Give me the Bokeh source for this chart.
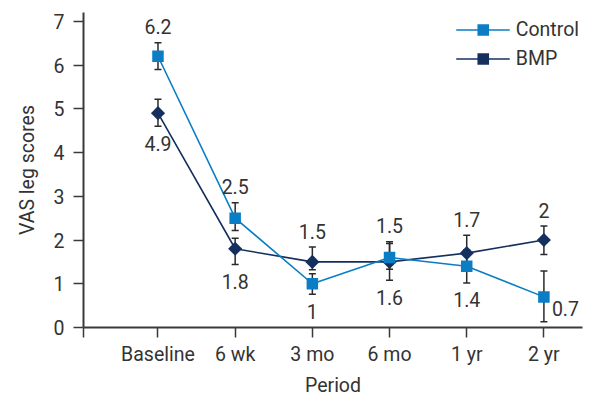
import numpy as np
from bokeh.plotting import figure
from bokeh.models import (ColumnDataSource, Range1d, FixedTicker, Whisker, TeeHead,
                          Legend, LegendItem, CustomJSTickFormatter)
from bokeh.core.properties import value
from bokeh.embed import file_html
from bokeh.resources import INLINE

# Follow-up time points
periods = ["Baseline", "6 wk", "3 mo", "6 mo", "1 yr", "2 yr"]

# Mean VAS leg scores with error-bar limits
control_mean = [6.2, 2.5, 1.0, 1.6, 1.4, 0.7]
control_low = [5.90, 2.22, 0.76, 1.33, 1.02, 0.13]
control_high = [6.51, 2.85, 1.23, 1.96, 1.78, 1.29]

bmp_mean = [4.9, 1.8, 1.5, 1.5, 1.7, 2.0]
bmp_low = [4.60, 1.44, 1.32, 1.08, 1.30, 1.67]
bmp_high = [5.22, 2.04, 1.84, 1.92, 2.11, 2.32]

# Where each value label sits relative to its point
control_label_side = ["above", "above", "below", "below", "below", "right"]
bmp_label_side = ["below", "below", "above", "above", "above", "above"]

y_ticks = [0, 1, 2, 3, 4, 5, 6, 7]

FONT = "Roboto"
FONT_SIZE = "19.5px"
TEXT = "#333333"
AXIS = "#3a3a3a"
CONTROL = "#0a7dc5"
BMP = "#15305e"
ERR = "#2a2a2a"

x_pos = list(range(1, len(periods) + 1))
X_START = 0.035

p = figure(width=590, height=399, output_backend="svg", toolbar_location=None,
           x_range=Range1d(X_START, 6.5), y_range=Range1d(0, 7.2),
           min_border_left=83, min_border_right=8, min_border_top=12,
           min_border_bottom=72)
p.outline_line_color = None
p.grid.visible = False
p.background_fill_color = "white"
p.border_fill_color = "white"

# Axes
for ax in (p.xaxis, p.yaxis):
    ax.axis_line_color = AXIS
    ax.axis_line_width = 2
    ax.major_tick_line_color = AXIS
    ax.major_tick_line_width = 1.5
    ax.major_tick_in = 0
    ax.major_tick_out = 10
    ax.minor_tick_line_color = None
    ax.major_label_text_font = FONT
    ax.major_label_text_font_size = FONT_SIZE
    ax.major_label_text_color = TEXT
    ax.axis_label_text_font = FONT
    ax.axis_label_text_font_size = FONT_SIZE
    ax.axis_label_text_font_style = "normal"
    ax.axis_label_text_color = TEXT

p.yaxis.ticker = FixedTicker(ticks=y_ticks)
p.yaxis.major_label_standoff = 9
p.yaxis.axis_label = "VAS leg scores"
p.yaxis.axis_label_standoff = 12

p.xaxis.ticker = FixedTicker(ticks=[X_START] + x_pos)
p.xaxis.formatter = CustomJSTickFormatter(args=dict(names=periods), code="""
    const i = Math.round(tick);
    return (Math.abs(tick - i) < 1e-6 && i >= 1) ? names[i - 1] : "";
""")
p.xaxis.major_label_standoff = 5
p.xaxis.axis_label = "Period"
p.xaxis.axis_label_standoff = 5

series = [
    ("BMP", bmp_mean, bmp_low, bmp_high, bmp_label_side, BMP),
    ("Control", control_mean, control_low, control_high, control_label_side, CONTROL),
]

# Error bars beneath lines and markers
for name, mean, lo, hi, side, color in series:
    src = ColumnDataSource(dict(x=x_pos, lo=lo, hi=hi))
    w = Whisker(base="x", lower="lo", upper="hi", source=src,
                line_color=ERR, line_width=1.5, level="underlay",
                upper_head=TeeHead(size=7, line_color=ERR, line_width=1.5),
                lower_head=TeeHead(size=7, line_color=ERR, line_width=1.5))
    p.add_layout(w)

renderers = {}
for name, mean, lo, hi, side, color in series:
    ln = p.line(x_pos, mean, line_color=color, line_width=1.6)
    renderers[name] = [ln]

for name, mean, lo, hi, side, color in series:
    if name == "Control":
        mk = p.scatter(x_pos, mean, marker="square", size=11.5,
                       fill_color=color, line_color=None)
    else:
        mk = p.scatter(x_pos, mean, marker="square", angle=np.pi / 4, size=10,
                       fill_color=color, line_color=None)
    renderers[name].append(mk)

# Value labels: clear of both groups' error bars at each time point
top_bar = [max(a, b) for a, b in zip(control_high, bmp_high)]
bottom_bar = [min(a, b) for a, b in zip(control_low, bmp_low)]

for name, mean, lo, hi, side, color in series:
    labels = [f"{v:g}" for v in mean]
    for where in ("above", "below", "right"):
        idx = [i for i, s in enumerate(side) if s == where]
        if not idx:
            continue
        if where == "above":
            ys = [top_bar[i] for i in idx]
            kw = dict(text_align="center", y_offset=-16)
        elif where == "below":
            ys = [bottom_bar[i] for i in idx]
            kw = dict(text_align="center", y_offset=17)
        else:
            ys = [mean[i] for i in idx]
            kw = dict(text_align="left", x_offset=8, y_offset=12)
        src = ColumnDataSource(dict(x=[x_pos[i] for i in idx], y=ys,
                                    t=[labels[i] for i in idx]))
        p.text(x="x", y="y", text="t", source=src, text_font=value(FONT),
               text_font_size=FONT_SIZE, text_color=TEXT,
               text_baseline="middle", **kw)

legend = Legend(items=[LegendItem(label="Control", renderers=renderers["Control"]),
                       LegendItem(label="BMP", renderers=renderers["BMP"])],
                location="top_right")
legend.label_text_font = FONT
legend.label_text_font_size = FONT_SIZE
legend.label_text_color = TEXT
legend.glyph_width = 54
legend.glyph_height = 29
legend.label_height = 20
legend.spacing = 0
legend.label_standoff = 6
legend.padding = 0
legend.margin = 3
legend.border_line_color = None
legend.background_fill_alpha = 0
p.add_layout(legend)

open("out.html", "w").write(file_html(p, INLINE))
